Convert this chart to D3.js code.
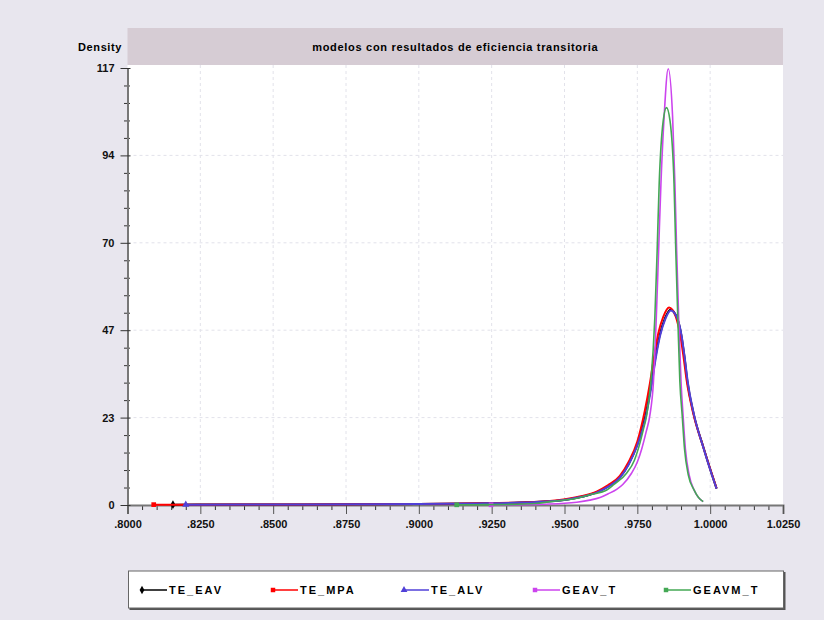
<!DOCTYPE html>
<html>
<head>
<meta charset="utf-8">
<script src="https://cdn.jsdelivr.net/npm/d3@7"></script>
<style>
  body { margin: 0; background: #e8e6ee; }
  svg { display: block; font-family: "Liberation Sans", Arial, sans-serif; }
</style>
</head>
<body>
<svg width="824" height="620"></svg>
<script>
// values: [efficiency, density]
const TE_EAV = [[0.8156,0.1],[0.84,0.12],[0.86,0.15],[0.88,0.2],[0.90,0.28],[0.92,0.42],[0.935,0.65],[0.945,1.0],[0.951,1.5],[0.956,2.2],[0.961,3.4],[0.965,5.0],[0.969,7.4],[0.972,11],[0.975,16.2],[0.9778,24],[0.9797,32],[0.9812,39.5],[0.9827,45.5],[0.9845,50],[0.9864,52.3],[0.9887,50],[0.9901,45.5],[0.9912,39.5],[0.9922,33],[0.9944,24.2],[0.9977,15.4],[1.0005,8.4],[1.0022,4.4]];
const TE_MPA = [[0.809,0.1],[0.82,0.1],[0.84,0.12],[0.86,0.15],[0.88,0.2],[0.90,0.3],[0.92,0.45],[0.935,0.7],[0.945,1.1],[0.9507,1.6],[0.956,2.4],[0.961,3.6],[0.965,5.3],[0.969,7.8],[0.972,11.5],[0.975,17],[0.9775,25],[0.9793,32.5],[0.9808,40],[0.9822,46],[0.9839,50.4],[0.9859,52.9],[0.9882,50.4],[0.9896,46],[0.9908,40],[0.9919,33.5],[0.9942,24.5],[0.9976,15.6],[1.0005,8.5],[1.0022,4.5]];
const TE_ALV = [[0.820,0.1],[0.84,0.12],[0.86,0.15],[0.88,0.2],[0.90,0.28],[0.92,0.42],[0.935,0.64],[0.945,1.0],[0.951,1.5],[0.956,2.2],[0.961,3.3],[0.965,4.9],[0.969,7.3],[0.972,10.8],[0.975,16],[0.9779,23.6],[0.9798,31.6],[0.9813,39.2],[0.9828,45.3],[0.9846,49.8],[0.9865,52.1],[0.9888,49.8],[0.9902,45.3],[0.9913,39.2],[0.9923,33],[0.9945,24],[0.9977,15.3],[1.0005,8.3],[1.0022,4.4]];
const GEAV_T = [[0.9248,0.05],[0.93,0.07],[0.94,0.15],[0.945,0.25],[0.95,0.45],[0.9542,0.75],[0.9587,1.3],[0.9622,2.0],[0.965,3.0],[0.9679,4.2],[0.970,5.5],[0.973,8.5],[0.975,11.5],[0.9765,15],[0.978,19.5],[0.9793,24],[0.9805,32.6],[0.9815,50],[0.9823,68],[0.9831,86],[0.9842,104],[0.9856,116.8],[0.9871,104],[0.9879,86],[0.9885,68],[0.9892,50],[0.990,33],[0.9907,24],[0.9915,15],[0.9928,8],[0.9945,4],[0.996,2],[0.9976,0.9]];
const GEAVM_T = [[0.913,0.05],[0.92,0.08],[0.93,0.15],[0.94,0.4],[0.945,0.9],[0.9542,1.8],[0.959,2.8],[0.9645,4.0],[0.967,5.5],[0.9713,8.5],[0.974,12],[0.9755,15.5],[0.977,20],[0.9782,24],[0.9796,32.6],[0.981,50],[0.9818,68],[0.9825,86],[0.9839,103],[0.985,106.4],[0.9862,103],[0.9876,86],[0.9882,68],[0.9889,50],[0.9896,33],[0.9904,24],[0.9912,15],[0.9925,8],[0.9945,4],[0.996,2],[0.9976,0.9]];

const seriesNames = ["TE_EAV", "TE_MPA", "TE_ALV", "GEAV_T", "GEAVM_T"];
const seriesData = [TE_EAV, TE_MPA, TE_ALV, GEAV_T, GEAVM_T];
const seriesColors = ["#000000", "#ff0000", "#5040d8", "#cc44ee", "#44a855"];
const seriesSymbols = [d3.symbolDiamond, d3.symbolSquare, d3.symbolTriangle, d3.symbolSquare, d3.symbolSquare];

const xTicks = [0.8, 0.825, 0.85, 0.875, 0.9, 0.925, 0.95, 0.975, 1.0, 1.025];
const yTicks = [0, 23.4, 46.8, 70.2, 93.6, 117];
const title = "modelos con resultados de eficiencia transitoria";

const svg = d3.select("svg");
const mLeft = 127.5, mRight = 783, mTop = 65, mBottom = 505;

const x = d3.scaleLinear().domain([0.8, 1.025]).range([mLeft, mRight]);
const y = d3.scaleLinear().domain([0, 117]).range([mBottom, mTop + 3]);

// title band and plot area
svg.append("rect").attr("x", mLeft).attr("y", 28).attr("width", mRight - mLeft).attr("height", mTop - 28).attr("fill", "#d6ccd4");
svg.append("rect").attr("x", mLeft).attr("y", mTop).attr("width", mRight - mLeft).attr("height", mBottom - mTop).attr("fill", "#fff");

svg.append("text")
    .attr("x", (mLeft + mRight) / 2).attr("y", 51)
    .attr("text-anchor", "middle")
    .attr("font-size", 11).attr("font-weight", "bold")
    .attr("letter-spacing", 0.7)
    .text(title);

svg.append("text")
    .attr("x", 122).attr("y", 51)
    .attr("text-anchor", "end")
    .attr("font-size", 11).attr("font-weight", "bold")
    .attr("letter-spacing", 0.6)
    .text("Density");

// grid
const grid = svg.append("g").attr("stroke", "#e2e2ea").attr("stroke-dasharray", "3,3");
grid.selectAll(".gx").data(xTicks.slice(1, -1)).enter().append("line")
    .attr("x1", d => x(d)).attr("x2", d => x(d)).attr("y1", mTop).attr("y2", mBottom);
grid.selectAll(".gy").data(yTicks.slice(1, -1)).enter().append("line")
    .attr("x1", mLeft).attr("x2", mRight).attr("y1", d => y(d)).attr("y2", d => y(d));

// minor ticks
const xMinor = d3.range(0, 45).map(i => 0.8 + i * 0.005).filter((d, i) => i % 5 !== 0);
const yMinor = d3.range(0, 25).map(i => i * 4.68).filter((d, i) => i % 5 !== 0);

svg.append("g").attr("transform", `translate(0,${mBottom})`)
    .call(d3.axisBottom(x).tickValues(xMinor).tickSize(5).tickFormat(""))
    .call(g => g.select(".domain").remove())
    .selectAll("line").attr("stroke", "#333");

svg.append("g").attr("transform", `translate(${mLeft + 2.5},0)`)
    .call(d3.axisLeft(y).tickValues(yMinor).tickSize(6).tickFormat(""))
    .call(g => g.select(".domain").remove())
    .selectAll("line").attr("stroke", "#333");

// major axes
const fmtX = d => { const s = d3.format(".4f")(d); return d < 1 ? s.replace(/^0/, "") : s; };
svg.append("g").attr("transform", `translate(0,${mBottom})`)
    .call(d3.axisBottom(x).tickValues(xTicks).tickSize(9).tickPadding(6).tickFormat(fmtX))
    .call(g => g.select(".domain").attr("stroke", "#777").attr("stroke-width", 2))
    .call(g => g.selectAll(".tick line").attr("stroke", "#555"))
    .call(g => g.selectAll("text").attr("font-size", 11).attr("font-weight", "bold").attr("fill", "#111")
        .attr("font-family", "Liberation Sans, Arial, sans-serif"));

svg.append("g").attr("transform", `translate(${mLeft},0)`)
    .call(d3.axisLeft(y).tickValues(yTicks).tickSize(7).tickSizeOuter(0).tickPadding(6).tickFormat(d3.format(".0f")))
    .call(g => g.select(".domain").attr("stroke", "#777").attr("stroke-width", 2))
    .call(g => g.selectAll(".tick line").attr("stroke", "#333").attr("x2", 3).attr("x1", -7))
    .call(g => g.selectAll("text").attr("font-size", 11).attr("font-weight", "bold").attr("fill", "#111")
        .attr("font-family", "Liberation Sans, Arial, sans-serif"));

// curves
const line = d3.line().x(d => x(d[0])).y(d => y(d[1])).curve(d3.curveMonotoneX);
const widths = [2, 2, 2, 1.6, 1.6];

seriesData.forEach((data, i) => {
    svg.append("path")
        .datum(data)
        .attr("fill", "none")
        .attr("stroke", seriesColors[i])
        .attr("stroke-width", widths[i])
        .attr("d", line);
    svg.append("path")
        .attr("d", d3.symbol().type(seriesSymbols[i]).size(22))
        .attr("transform", `translate(${x(data[0][0])},${y(data[0][1])})`)
        .attr("fill", seriesColors[i]);
});

// legend
const legend = svg.append("g");
legend.append("rect").attr("x", 129.5).attr("y", 572).attr("width", 656).attr("height", 38).attr("fill", "#555");
legend.append("rect").attr("x", 128.5).attr("y", 571).attr("width", 655).attr("height", 37)
    .attr("fill", "#fff").attr("stroke", "#666").attr("stroke-width", 1);

const legendX = [142, 273, 404, 535, 666];
seriesNames.forEach((name, i) => {
    const g = legend.append("g").attr("transform", `translate(${legendX[i]},590)`);
    g.append("line").attr("x1", 0).attr("x2", 25).attr("stroke", seriesColors[i]).attr("stroke-width", 1.5);
    g.append("path").attr("d", d3.symbol().type(seriesSymbols[i]).size(20)).attr("fill", seriesColors[i]);
    g.append("text").attr("x", 27).attr("y", 4)
        .attr("font-size", 11).attr("font-weight", "bold").attr("letter-spacing", 2)
        .text(name);
});
</script>
</body>
</html>
